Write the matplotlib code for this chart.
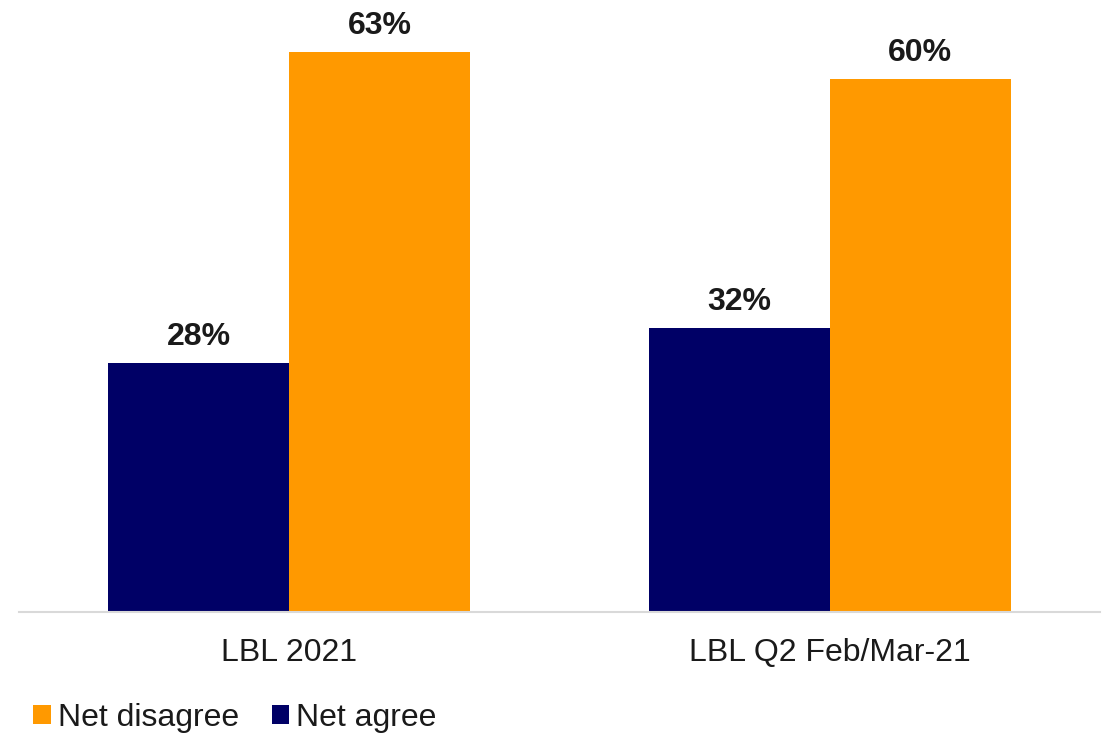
import matplotlib
matplotlib.use("Agg")
import matplotlib.pyplot as plt
import numpy as np

# Survey results by wave
categories = ["LBL 2021", "LBL Q2 Feb/Mar-21"]
net_agree = [28, 32]
net_disagree = [63, 60]

NAVY = "#000066"
ORANGE = "#FF9900"
TEXT = "#1a1a1a"

plt.rcParams["font.family"] = ["Liberation Sans", "DejaVu Sans"]

fig = plt.figure(figsize=(11.09, 7.37), dpi=100)
ax = fig.add_axes([19 / 1109, 125 / 737, 1081 / 1109, 612 / 737])

x = np.arange(len(categories))
w = 0.335
b_agree = ax.bar(x - w / 2, net_agree, width=w, color=NAVY, label="Net agree")
b_dis = ax.bar(x + w / 2, net_disagree, width=w, color=ORANGE, label="Net disagree")

for bars, vals in ((b_agree, net_agree), (b_dis, net_disagree)):
    for rect, v in zip(bars, vals):
        ax.annotate(f"{v}%", (rect.get_x() + rect.get_width() / 2, v),
                    xytext=(0, 13), textcoords="offset points",
                    ha="center", va="baseline", fontsize=23,
                    fontweight="bold", color=TEXT)

ax.set_xlim(-0.5, 1.5)
ax.set_ylim(0, 68.85)
ax.set_xticks(x)
ax.set_xticklabels(categories, fontsize=23, color=TEXT)
ax.tick_params(axis="x", length=0, pad=19)
ax.set_yticks([])
for side in ("top", "left", "right"):
    ax.spines[side].set_visible(False)
ax.spines["bottom"].set_color("#D9D9D9")
ax.spines["bottom"].set_linewidth(1.5)

handles = [b_dis, b_agree]
fig.legend(handles, [h.get_label() for h in handles],
           loc="lower left", bbox_to_anchor=(33 / 1109, 4 / 737),
           ncol=2, frameon=False, fontsize=23,
           handlelength=0.55, handleheight=0.55, handletextpad=0.22,
           columnspacing=1.03, borderpad=0.0, borderaxespad=0.0,
           labelcolor=TEXT)

fig.savefig("out.png", dpi=100)
